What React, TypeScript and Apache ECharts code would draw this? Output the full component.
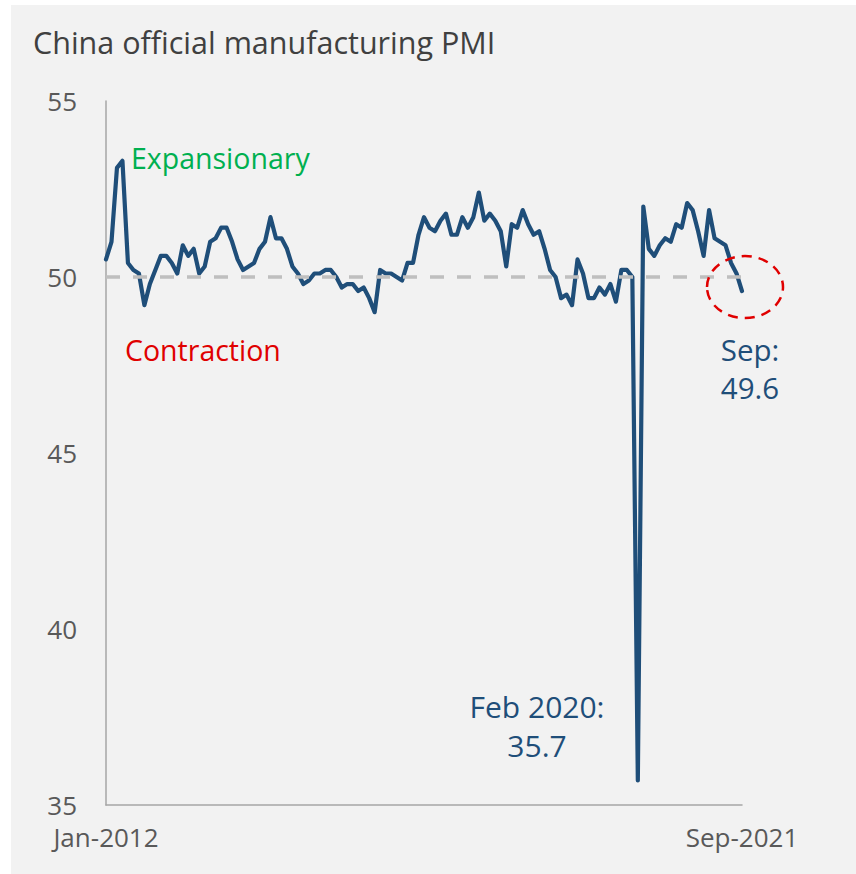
import React, { useEffect, useRef } from "react";
import * as echarts from "echarts";

const MONTHS = ["Jan", "Feb", "Mar", "Apr", "May", "Jun", "Jul", "Aug", "Sep", "Oct", "Nov", "Dec"];
const START_YEAR = 2012;

const PMI_2012 = [50.5, 51.0, 53.1, 53.3, 50.4, 50.2, 50.1, 49.2, 49.8, 50.2, 50.6, 50.6];
const PMI_2013 = [50.4, 50.1, 50.9, 50.6, 50.8, 50.1, 50.3, 51.0, 51.1, 51.4, 51.4, 51.0];
const PMI_2014 = [50.5, 50.2, 50.3, 50.4, 50.8, 51.0, 51.7, 51.1, 51.1, 50.8, 50.3, 50.1];
const PMI_2015 = [49.8, 49.9, 50.1, 50.1, 50.2, 50.2, 50.0, 49.7, 49.8, 49.8, 49.6, 49.7];
const PMI_2016 = [49.4, 49.0, 50.2, 50.1, 50.1, 50.0, 49.9, 50.4, 50.4, 51.2, 51.7, 51.4];
const PMI_2017 = [51.3, 51.6, 51.8, 51.2, 51.2, 51.7, 51.4, 51.7, 52.4, 51.6, 51.8, 51.6];
const PMI_2018 = [51.3, 50.3, 51.5, 51.4, 51.9, 51.5, 51.2, 51.3, 50.8, 50.2, 50.0, 49.4];
const PMI_2019 = [49.5, 49.2, 50.5, 50.1, 49.4, 49.4, 49.7, 49.5, 49.8, 49.3, 50.2, 50.2];
const PMI_2020 = [50.0, 35.7, 52.0, 50.8, 50.6, 50.9, 51.1, 51.0, 51.5, 51.4, 52.1, 51.9];
const PMI_2021 = [51.3, 50.6, 51.9, 51.1, 51.0, 50.9, 50.4, 50.1, 49.6];

const PMI = [
  ...PMI_2012, ...PMI_2013, ...PMI_2014, ...PMI_2015, ...PMI_2016,
  ...PMI_2017, ...PMI_2018, ...PMI_2019, ...PMI_2020, ...PMI_2021,
];
const CATEGORIES = PMI.map((_, i) => `${MONTHS[i % 12]}-${START_YEAR + Math.floor(i / 12)}`);
const THRESHOLD = 50;
const Y_MIN = 35;
const Y_MAX = 55;
const Y_STEP = 5;

const TITLE = "China official manufacturing PMI";
const LABEL_EXP = "Expansionary";
const LABEL_CON = "Contraction";
const LABEL_LAST = "Sep:\n49.6";
const LABEL_LOW = "Feb 2020:\n35.7";

const FONT = "'Open Sans', 'Noto Sans', sans-serif";
const BLUE = "#1f4e79";
const AXIS_TEXT = "#595959";

export default function App() {
  const ref = useRef<HTMLDivElement>(null);

  useEffect(() => {
    if (!ref.current) return;
    const chart = echarts.init(ref.current, undefined, { renderer: "svg" });
    const last = PMI.length - 1;
    chart.setOption({
      animation: false,
      backgroundColor: "transparent",
      grid: { left: 106, right: 114, top: 101, bottom: 69 },
      xAxis: {
        type: "category",
        boundaryGap: false,
        data: CATEGORIES,
        axisLine: { lineStyle: { color: "#a6a6a6", width: 1.5 } },
        axisTick: { show: false },
        axisLabel: {
          interval: (i: number) => i === 0 || i === last,
          color: AXIS_TEXT,
          fontSize: 26,
          fontFamily: FONT,
          margin: 19,
        },
        splitLine: { show: false },
      },
      yAxis: {
        type: "value",
        min: Y_MIN,
        max: Y_MAX,
        interval: Y_STEP,
        axisLine: { show: true, lineStyle: { color: "#a6a6a6", width: 1.5 } },
        axisTick: { show: false },
        splitLine: { show: false },
        axisLabel: { color: AXIS_TEXT, fontSize: 26, fontFamily: FONT, margin: 29 },
      },
      series: [
        {
          type: "line",
          data: [],
          z: 1,
          markLine: {
            silent: true,
            symbol: "none",
            label: { show: false },
            lineStyle: { color: "#bfbfbf", width: 3.5, type: [14, 13] },
            data: [{ yAxis: THRESHOLD }],
          },
        },
        {
          type: "line",
          data: PMI,
          z: 3,
          symbol: "none",
          lineStyle: { color: BLUE, width: 4.2, join: "round", cap: "round" },
        },
      ],
    });

    const p = chart.convertToPixel({ seriesIndex: 1 }, [last, PMI[last]]) as number[];
    const txt = (
      text: string, x: number, y: number, size: number, fill: string,
      align = "left", lineHeight?: number
    ) => ({
      type: "text",
      z: 10,
      style: {
        text, x, y, textAlign: align, textVerticalAlign: "middle",
        font: `${size}px ${FONT}`, fill, lineHeight,
      },
    });
    chart.setOption({
      graphic: [
        txt(TITLE, 33, 42, 30.5, "#404040"),
        txt(LABEL_EXP, 131, 158, 28.5, "#00b050"),
        txt(LABEL_CON, 125, 350, 28.5, "#e00000"),
        txt(LABEL_LAST, 750, 368, 29.5, BLUE, "center", 38),
        txt(LABEL_LOW, 537, 725.5, 30, BLUE, "center", 39),
        {
          type: "ellipse",
          shape: { cx: p[0] + 3, cy: p[1] - 4, rx: 38, ry: 31 },
          style: { fill: "none", stroke: "#e00000", lineWidth: 2.5, lineDash: [10, 7] },
          z: 10,
        },
      ],
    });
    return () => chart.dispose();
  }, []);

  return (
    <div style={{ position: "absolute", left: 0, top: 0, width: 856, height: 874, background: "#ffffff" }}>
      <div style={{ position: "absolute", left: 11, top: 5, right: 0, bottom: 0, background: "#f2f2f2" }} />
      <div ref={ref} style={{ position: "absolute", left: 0, top: 0, width: 856, height: 874 }} />
    </div>
  );
}
